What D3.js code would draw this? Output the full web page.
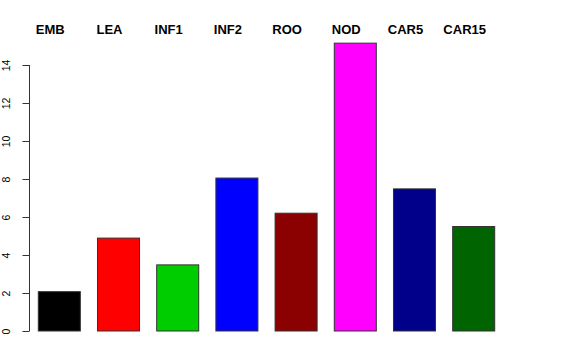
<!DOCTYPE html>
<html><head><meta charset="utf-8">
<script src="https://cdn.jsdelivr.net/npm/d3@7"></script>
<style>html,body{margin:0;padding:0;background:#fff;}</style>
</head><body>
<svg id="chart" width="576" height="360"></svg>
<script>
const categories = ["EMB","LEA","INF1","INF2","ROO","NOD","CAR5","CAR15"];
const values = [2.07, 4.89, 3.48, 8.05, 6.2, 15.15, 7.48, 5.5];
const colors = ["#000000","#FF0000","#00CD00","#0000FF","#8B0000","#FF00FF","#00008B","#006400"];
const yTicks = [0,2,4,6,8,10,12,14];

const svg = d3.select("#chart");
const x = d3.scaleBand().domain(categories).range([38.3, 494.7]).paddingInner(0.29).paddingOuter(0);
const y = d3.scaleLinear().domain([0,14]).range([331,65]);

svg.selectAll("rect.bar").data(categories).join("rect")
  .attr("class","bar")
  .attr("x", d => x(d)).attr("width", x.bandwidth())
  .attr("y", (d,i) => y(values[i])).attr("height", (d,i) => y(0) - y(values[i]))
  .attr("fill", (d,i) => colors[i])
  .attr("stroke", "#333").attr("stroke-width", 1);

const axis = svg.append("g").attr("transform","translate(29.5,0)")
  .call(d3.axisLeft(y).tickValues(yTicks).tickSize(7).tickPadding(0).tickFormat(d3.format("d")));
axis.select(".domain").attr("stroke","#333").attr("d","M0,65V331");
axis.selectAll(".tick line").attr("stroke","#333");
axis.selectAll(".tick text").remove();
axis.selectAll(".tick").append("text")
  .attr("transform","translate(-20,0) rotate(-90)")
  .attr("text-anchor","middle")
  .attr("fill","#000")
  .style("font-family","'Liberation Sans', Arial, sans-serif")
  .style("font-size","10.5px")
  .text(d => d);

svg.selectAll("text.lab").data(categories).join("text")
  .attr("class","lab")
  .attr("x", d => x(d) + x.bandwidth()/2 - 9)
  .attr("y", 34)
  .attr("text-anchor","middle")
  .style("font-family","'Liberation Sans', Arial, sans-serif")
  .style("font-weight","bold")
  .style("font-size","13px")
  .text(d => d);
</script>
</body></html>
